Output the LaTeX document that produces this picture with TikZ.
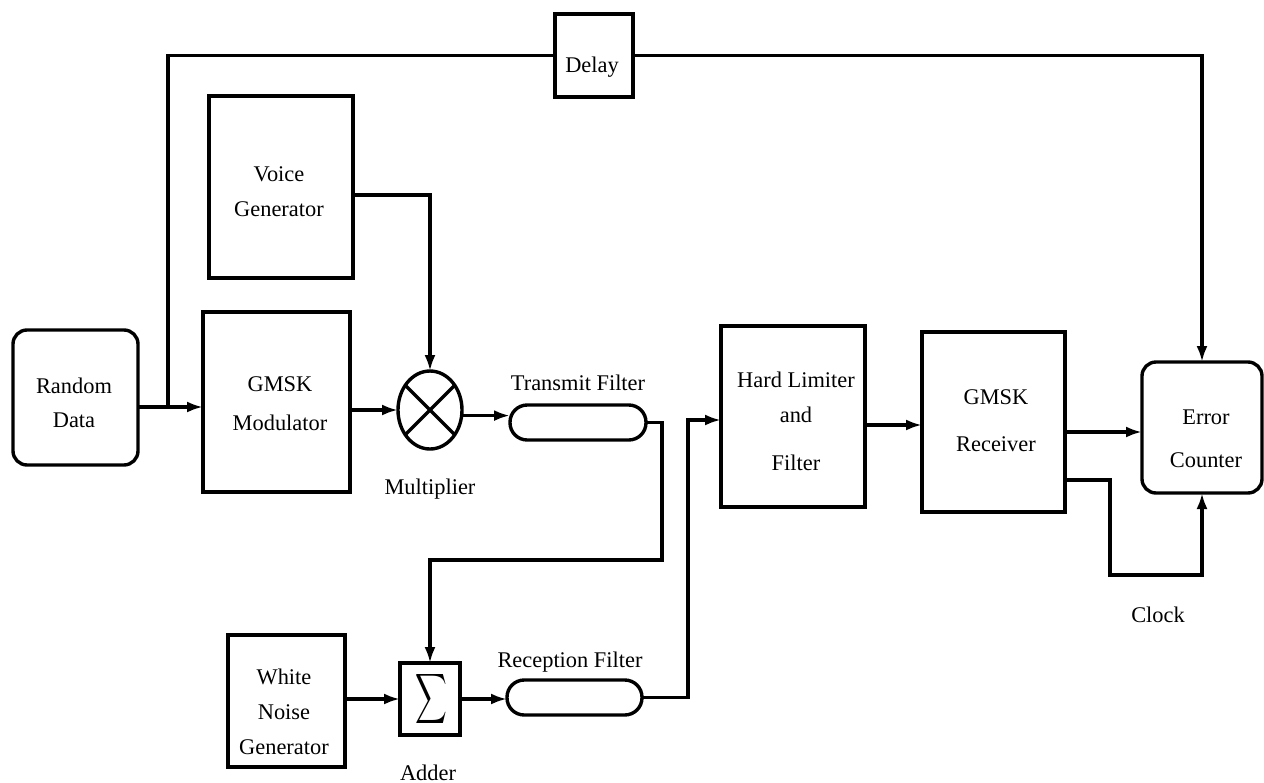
\documentclass[tikz,border=0pt]{standalone}
\usepackage{fontspec}
\setmainfont{Liberation Serif}
\usepackage{graphicx}
\usetikzlibrary{shapes.geometric,arrows.meta,calc}
\begin{document}
\begin{tikzpicture}[x=0.5pt,y=-0.5pt,line width=1.7pt,
  blk/.style={draw,rectangle,inner sep=0pt,outer sep=0pt},
  rblk/.style={blk,rounded corners=7pt},
  pill/.style={blk,rounded corners=8.6pt,minimum width=68pt,minimum height=17.5pt},
  txt/.style={align=center,inner sep=0pt,font=\fontsize{11.2}{#1}\selectfont},
  lbl/.style={inner sep=0pt,anchor=base,font=\fontsize{11.2}{13}\selectfont},
  arr/.style={-{Latex[length=8pt,width=5.5pt]}}]
\useasboundingbox (0,0) rectangle (1264,782);

% blocks
\node[rblk,minimum width=62.5pt,minimum height=67.5pt] (rd) at (75.5,397.5) {};
\node[blk,minimum width=73.5pt,minimum height=90pt] (mod) at (276.5,402) {};
\node[blk,minimum width=72pt,minimum height=91pt] (vg) at (281,187) {};
\node[draw,ellipse,inner sep=0pt,outer sep=0pt,minimum width=32pt,minimum height=39pt] (mult) at (430,410) {};
\node[pill] (tx) at (578,422.5) {};
\node[blk,minimum width=58.5pt,minimum height=66pt] (wng) at (286.5,701) {};
\node[blk,minimum width=30pt,minimum height=36pt] (add) at (430,699) {};
\node[pill,minimum width=67.5pt] (rf) at (574.5,697.5) {};
\node[blk,minimum width=72pt,minimum height=90.5pt] (hl) at (793,416.5) {};
\node[blk,minimum width=71.5pt,minimum height=90pt] (rec) at (993.5,422) {};
\node[rblk,minimum width=60pt,minimum height=65.5pt] (ec) at (1202,427.5) {};
\node[blk,minimum width=39pt,minimum height=41.5pt] (delay) at (594,55.5) {};

% texts
\node[txt=17] (trd) at (74,402.5) {Random\\Data};
\node[txt=19.5] (tmod) at (280,404) {GMSK\\Modulator};
\node[txt=17.5] (tvg) at (279,192) {Voice\\Generator};
\node[txt=17.5] (thl) at (796,421) {Hard Limiter\\and\\[6.5pt]Filter};
\node[txt=23.5] (trec) at (996,421) {GMSK\\Receiver};
\node[txt=21.5] (tec) at (1206,439) {Error\\Counter};
\node[txt=17.5] (twng) at (284,711.5) {White\\Noise\\Generator};
\node[lbl] (tdelay) at (592,72) {Delay};
\node[lbl] (ttx) at (578,390) {Transmit Filter};
\node[lbl] (tmult) at (430,494) {Multiplier};
\node[lbl] (trf) at (570,667) {Reception Filter};
\node[lbl] (tadd) at (428,780) {Adder};
\node[lbl] (tclk) at (1158,622) {Clock};
\node[inner sep=0pt] (sig) at (431,699) {\scalebox{1.1}[1.75]{$\displaystyle\sum$}};

% multiplier cross
\draw (mult.45) -- (mult.225) (mult.135) -- (mult.315);

% connectors
\coordinate (br) at (168,407);
\draw[arr] (rd.east |- br) -- (mod.west |- br);
\draw (br) |- (delay.west);
\draw[arr] (delay.east) -| (ec.north);
\draw[arr] (mod.east |- mult.west) -- (mult.west);
\draw[arr] (vg.east |- 0,195) -| (mult.north);
\draw[arr] (mult.-10) -- (tx.west |- mult.-10);
\draw[arr] (tx.east) -| (662,560) -| (add.north);
\draw[arr] (wng.east |- add.west) -- (add.west);
\draw[arr] (add.east) -- (add.east -| rf.west);
\draw[arr] (rf.east) -| (688,420) -- (688,420 -| hl.west);
\draw[arr] (hl.east |- 0,425) -- (rec.west |- 0,425);
\draw[arr] (rec.east |- 0,432) -- (ec.west |- 0,432);
\draw[arr] (rec.east |- 0,480) -| (1110,575) -| (ec.south);
\end{tikzpicture}
\end{document}
